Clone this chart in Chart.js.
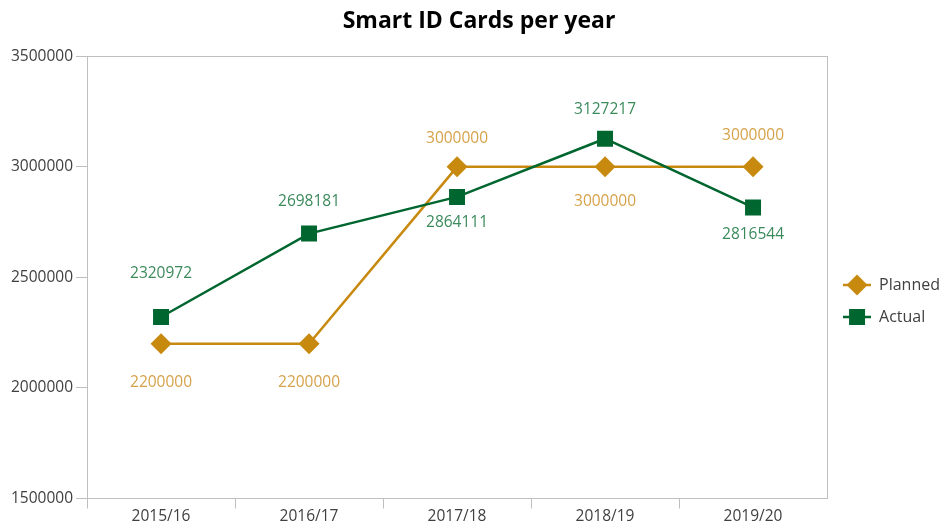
<!DOCTYPE html>
<html>
<head>
<meta charset="utf-8">
<script src="https://cdn.jsdelivr.net/npm/chart.js@4"></script>
<style>
  html, body { margin: 0; padding: 0; background: #fff; }
  #wrap { width: 942px; height: 526px; }
</style>
</head>
<body>
<div id="wrap"><canvas id="grafico"></canvas></div>
<script>
// data
const years = ['2015/16', '2016/17', '2017/18', '2018/19', '2019/20'];
const planned = [2200000, 2200000, 3000000, 3000000, 3000000];
const actual = [2320972, 2698181, 2864111, 3127217, 2816544];
const yTicks = [1500000, 2000000, 2500000, 3000000, 3500000];

// where the value labels sit, px from the point (+ is below)
const plannedLabelShift = [39, 39, -28, 35, -31];
const actualLabelShift = [-43, -32, 26, -29, 27];

const gold = '#C8890F';
const green = '#00662F';
const greyLine = '#BFBFBF';
const fontName = '"Open Sans", "Noto Sans", sans-serif';

// little canvas with a line and the marker, used as legend symbol
function legendIcon(color, shape) {
  let c = document.createElement('canvas');
  c.width = 28;
  c.height = 24;
  let g = c.getContext('2d');
  g.strokeStyle = color;
  g.lineWidth = 2.5;
  g.beginPath();
  g.moveTo(0, 12);
  g.lineTo(28, 12);
  g.stroke();
  g.fillStyle = color;
  g.beginPath();
  if (shape === 'diamond') {
    g.moveTo(14, 1.5);
    g.lineTo(24.5, 12);
    g.lineTo(14, 22.5);
    g.lineTo(3.5, 12);
  } else {
    g.rect(6, 4, 16, 16);
  }
  g.closePath();
  g.fill();
  return c;
}

// frame round the plot area
const marcoPlugin = {
  id: 'marco',
  beforeDatasetsDraw(chart) {
    let a = chart.chartArea;
    let ctx = chart.ctx;
    ctx.save();
    ctx.strokeStyle = greyLine;
    ctx.lineWidth = 1;
    ctx.strokeRect(Math.round(a.left) + 0.5, Math.round(a.top) + 0.5,
      Math.round(a.right - a.left), Math.round(a.bottom - a.top));
    ctx.restore();
  }
};

// value labels above / below the points
const etiquetasPlugin = {
  id: 'etiquetas',
  afterDatasetsDraw(chart) {
    let ctx = chart.ctx;
    ctx.save();
    ctx.font = '15.5px ' + fontName;
    ctx.textAlign = 'center';
    ctx.textBaseline = 'middle';
    chart.data.datasets.forEach(function (ds, i) {
      let meta = chart.getDatasetMeta(i);
      meta.data.forEach(function (pt, j) {
        ctx.fillStyle = ds.labelColor;
        ctx.fillText(String(ds.data[j]), pt.x, pt.y + ds.labelShift[j]);
      });
    });
    ctx.restore();
  }
};

const ctx = document.getElementById('grafico').getContext('2d');
const myChart = new Chart(ctx, {
  type: 'line',
  data: {
    labels: years,
    datasets: [{
      label: 'Planned',
      data: planned,
      borderColor: gold,
      backgroundColor: gold,
      borderWidth: 2.5,
      pointStyle: 'rectRot',
      pointRadius: 10.5,
      pointBorderWidth: 0,
      pointHoverRadius: 10.5,
      tension: 0,
      order: 1,
      labelColor: '#D6A24A',
      labelShift: plannedLabelShift,
      icon: legendIcon(gold, 'diamond')
    }, {
      label: 'Actual',
      data: actual,
      borderColor: green,
      backgroundColor: green,
      borderWidth: 2.5,
      pointStyle: 'rect',
      pointRadius: 11.3,
      pointBorderWidth: 0,
      pointHoverRadius: 11.3,
      tension: 0,
      order: 0,
      labelColor: '#3B8A5C',
      labelShift: actualLabelShift,
      icon: legendIcon(green, 'square')
    }]
  },
  options: {
    responsive: true,
    maintainAspectRatio: false,
    animation: false,
    events: [],
    layout: { padding: { left: 8, right: -8, bottom: 2 } },
    plugins: {
      title: {
        display: true,
        text: 'Smart ID Cards per year',
        color: '#000',
        font: { family: fontName, size: 23, weight: 'bold', lineHeight: 1.1 },
        padding: { top: 9, bottom: 22 }
      },
      legend: {
        position: 'right',
        title: {
          display: true,
          text: '',
          font: { size: 10 },
          padding: { top: 66, bottom: 0 }
        },
        labels: {
          usePointStyle: true,
          pointStyleWidth: 28,
          padding: 16,
          color: '#404040',
          font: { family: fontName, size: 16 },
          generateLabels: function (chart) {
            return chart.data.datasets.map(function (ds, i) {
              return {
                text: ds.label,
                fillStyle: ds.borderColor,
                strokeStyle: ds.borderColor,
                fontColor: '#404040',
                lineWidth: 0,
                pointStyle: ds.icon,
                hidden: false,
                datasetIndex: i
              };
            });
          }
        }
      },
      tooltip: { enabled: false }
    },
    scales: {
      x: {
        offset: true,
        grid: {
          offset: true,
          drawOnChartArea: false,
          tickLength: 10,
          color: function (c) { return c.type === 'tick' ? greyLine : 'rgba(0,0,0,0)'; }
        },
        border: { color: greyLine },
        ticks: { color: '#404040', font: { family: fontName, size: 15.5, lineHeight: 1 }, padding: 0 }
      },
      y: {
        min: 1500000,
        max: 3500000,
        afterBuildTicks: function (axis) {
          axis.ticks = yTicks.map(function (v) { return { value: v }; });
        },
        grid: { drawOnChartArea: false, tickLength: 11, color: greyLine },
        border: { color: greyLine },
        ticks: {
          color: '#404040',
          font: { family: fontName, size: 15.5 },
          padding: 3,
          callback: function (v) { return String(v); }
        }
      }
    }
  },
  plugins: [marcoPlugin, etiquetasPlugin]
});
</script>
</body>
</html>
